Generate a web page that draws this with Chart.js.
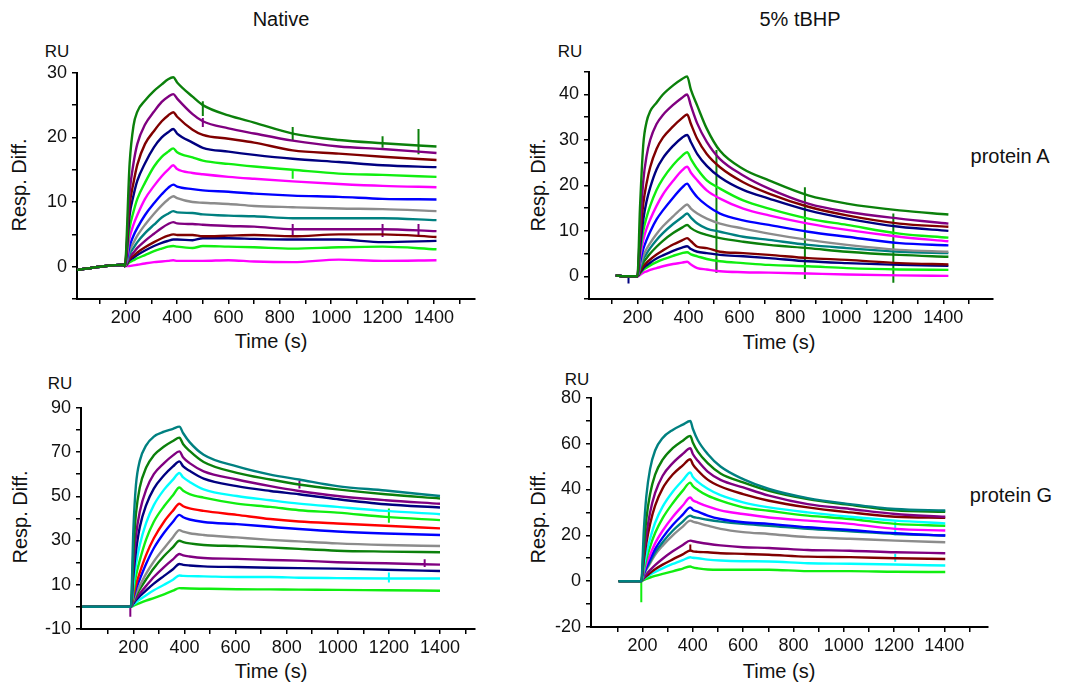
<!DOCTYPE html>
<html>
<head>
<meta charset="utf-8">
<script src="https://cdn.jsdelivr.net/npm/chart.js@4.4.1/dist/chart.umd.min.js"></script>
<style>
  body { margin: 0; background: #fff; width: 1073px; height: 682px; position: relative; overflow: hidden;
         font-family: "Liberation Sans", Arial, sans-serif; color: #111; }
  .lbl { position: absolute; white-space: nowrap; transform: translate(-50%, -50%); font-size: 20px; }
  .ru { font-size: 17px; }
  .rot { transform: translate(-50%, -50%) rotate(-90deg); }
  .panel { position: absolute; }
</style>
</head>
<body>
<div class="lbl" style="left:281px;top:19px">Native</div>
<div class="lbl" style="left:800px;top:19px">5% tBHP</div>
<div class="lbl" style="left:1010px;top:156px">protein A</div>
<div class="lbl" style="left:1011px;top:495px">protein G</div>

<div class="lbl ru" style="left:57px;top:52px">RU</div>
<div class="lbl ru" style="left:570px;top:52px">RU</div>
<div class="lbl ru" style="left:60px;top:384px">RU</div>
<div class="lbl ru" style="left:577px;top:380px">RU</div>

<div class="lbl rot" style="left:19px;top:185px">Resp. Diff.</div>
<div class="lbl rot" style="left:538px;top:185px">Resp. Diff.</div>
<div class="lbl rot" style="left:20px;top:517px">Resp. Diff.</div>
<div class="lbl rot" style="left:538px;top:517px">Resp. Diff.</div>

<div class="lbl" style="left:271px;top:341px">Time (s)</div>
<div class="lbl" style="left:779px;top:342px">Time (s)</div>
<div class="lbl" style="left:271px;top:671px">Time (s)</div>
<div class="lbl" style="left:779px;top:671px">Time (s)</div>

<div class="panel" id="nativeA"></div>
<div class="panel" id="tbhpA"></div>
<div class="panel" id="nativeG"></div>
<div class="panel" id="tbhpG"></div>

<script>
// --- Data (sensorgrams) ---
const nativeATimes = [10, 100, 190, 196, 215, 230, 245, 275, 310, 340, 365, 385, 400, 460, 500, 600, 700, 850, 1030, 1200, 1410];
const nativeA = [
  [-0.5, 0, 0.3, 0.1, 16, 21.8, 24, 25.7, 27.2, 28.2, 29, 29.3, 28.5, 26.3, 25.0, 23.4, 22.3, 20.6, 19.6, 19.1, 18.6],
  [-0.5, 0, 0.3, 0.1, 11.5, 16, 19, 22, 24, 25.5, 26.3, 26.7, 26, 23.6, 22.5, 21.4, 20.6, 19.5, 18.6, 18.2, 17.6],
  [-0.5, 0, 0.3, 0.1, 9.5, 13, 15.8, 19, 21, 22.5, 23.4, 23.9, 23.2, 21.2, 20.4, 19.8, 19.2, 18.0, 17.5, 17.0, 16.5],
  [-0.5, 0, 0.3, 0.1, 8, 11, 13.3, 16, 18.5, 20, 20.8, 21.3, 20.6, 19.2, 18.4, 17.8, 17.3, 16.7, 16.2, 15.7, 15.4],
  [-0.5, 0, 0.3, 0.1, 6, 8.5, 10.5, 13, 15.5, 17, 17.8, 18.3, 17.7, 16.9, 16.4, 15.9, 15.5, 15.0, 14.4, 14.2, 13.9],
  [-0.5, 0, 0.3, 0.1, 4.5, 6.5, 8, 10.5, 12.5, 14, 15, 15.7, 15.1, 14.5, 14.3, 13.9, 13.6, 13.2, 12.8, 12.5, 12.3],
  [-0.5, 0, 0.3, 0.1, 3.2, 4.8, 6, 8, 9.8, 11.2, 12.2, 12.7, 12.4, 12.0, 11.8, 11.6, 11.3, 11.0, 10.8, 10.5, 10.4],
  [-0.5, 0, 0.3, 0.1, 2.5, 3.7, 4.8, 6.5, 8.2, 9.5, 10.4, 10.9, 10.6, 10.0, 9.9, 9.7, 9.4, 9.2, 9.0, 8.9, 8.6],
  [-0.5, 0, 0.3, 0.1, 2, 2.9, 3.8, 5.2, 6.5, 7.6, 8.2, 8.6, 8.4, 8.3, 8.1, 7.9, 7.8, 7.5, 7.5, 7.5, 7.2],
  [-0.5, 0, 0.3, 0.1, 1.5, 2.2, 2.9, 4, 5.1, 6, 6.6, 6.9, 6.7, 6.6, 6.5, 6.3, 6.2, 5.8, 5.8, 5.8, 5.5],
  [-0.5, 0, 0.3, 0.1, 1.2, 1.7, 2.2, 3, 3.8, 4.4, 4.8, 5.0, 4.9, 4.9, 4.7, 4.8, 4.9, 4.7, 5.0, 5.0, 4.6],
  [-0.5, 0, 0.3, 0.1, 1, 1.4, 1.8, 2.5, 3.2, 3.7, 4, 4.2, 4.2, 4.1, 4.4, 4.4, 4.3, 4.2, 4.2, 3.8, 4.0],
  [-0.5, 0, 0.3, 0.1, 0.7, 1, 1.3, 1.8, 2.4, 2.8, 3.1, 3.2, 3.1, 2.9, 3.2, 3.1, 3.0, 2.8, 3.0, 3.1, 2.7],
  [-0.5, 0, 0.3, 0.1, 0.1, 0.2, 0.3, 0.5, 0.7, 0.8, 0.9, 1.0, 0.9, 0.9, 0.9, 1.0, 0.8, 0.7, 1.1, 0.9, 1.0]
];
// injection artefacts: [time, low, high, series index]
const nativeASpikes = [
  [500, 23.3, 25.6, 0], [850, 19.6, 21.6, 0], [1200, 18.4, 20.2, 0], [1340, 17.4, 21.3, 0],
  [850, 4.6, 6.6, 9], [1200, 4.6, 6.6, 9], [1340, 4.8, 6.6, 9], [850, 13.6, 15.0, 4], [500, 21.6, 23.0, 1]
];

const tbhpATimes = [115, 150, 190, 200, 210, 223, 236, 250, 275, 300, 340, 375, 395, 410, 435, 472, 524, 615, 716, 870, 1022, 1228, 1420];
const tbhpA = [
  [0.2, 0, 0, 0, 15, 29, 34, 36.3, 38.2, 40.0, 42.0, 43.4, 44, 41, 37.5, 32.5, 27.6, 23.6, 21.1, 17.8, 16.0, 14.5, 13.6],
  [0.2, 0, 0, 0, 10, 21, 26.5, 30, 33.5, 35.5, 37.7, 39.3, 40, 37.5, 33.6, 29.6, 25.8, 22.2, 19.3, 16.0, 14.2, 12.7, 11.6],
  [0.2, 0, 0, 0, 8, 16, 20.5, 24, 28, 30.5, 33, 34.8, 35.6, 33.5, 30.2, 26.9, 24.0, 20.7, 18.2, 15.3, 13.4, 11.6, 10.9],
  [0.2, 0, 0, 0, 6, 12.5, 16.5, 19.5, 23.5, 26, 28.7, 30.5, 31.1, 29.5, 26.9, 24.3, 21.8, 19.0, 17.1, 14.5, 12.7, 10.9, 10.0],
  [0.2, 0, 0, 0, 5, 10, 13, 15.5, 19, 21.5, 24.5, 26.5, 27.3, 25.8, 23.6, 21.1, 19.3, 16.7, 14.9, 12.7, 11.3, 9.4, 8.5],
  [0.2, 0, 0, 0, 4, 8, 10.5, 12.5, 15.5, 18, 21, 23.3, 24.1, 22.8, 21.1, 18.9, 17.1, 14.9, 13.4, 11.6, 10.2, 8.7, 7.7],
  [0.2, 0, 0, 0, 3, 6, 8, 9.8, 12.5, 14.5, 17.3, 19.5, 20.4, 19.2, 17.4, 15.6, 13.8, 12.3, 11.3, 9.8, 8.7, 7.3, 6.8],
  [0.2, 0, 0, 0, 2.2, 4.5, 6, 7.3, 9.3, 11, 13.2, 15, 15.8, 14.9, 13.8, 12.7, 11.6, 10.5, 9.4, 8.0, 6.9, 5.8, 5.4],
  [0.2, 0, 0, 0, 1.8, 3.8, 5, 6.2, 8, 9.5, 11.5, 13, 13.8, 12.9, 11.6, 10.5, 9.8, 8.7, 8.0, 6.9, 6.2, 5.4, 5.1],
  [0.2, 0, 0, 0, 1.4, 3, 4, 5, 6.5, 7.8, 9.5, 10.7, 11.3, 10.6, 9.8, 9.1, 8.4, 7.6, 6.9, 6.2, 5.4, 4.7, 4.3],
  [0.2, 0, 0, 0, 1.0, 2.2, 3, 3.7, 4.8, 5.7, 7, 7.9, 8.4, 7.7, 6.5, 6.2, 5.4, 5.1, 4.7, 4.0, 3.6, 2.9, 2.6],
  [0.2, 0, 0, 0, 0.8, 1.8, 2.4, 3, 3.9, 4.6, 5.6, 6.3, 6.6, 6.0, 5.4, 5.1, 4.7, 4.4, 4.0, 3.3, 2.9, 2.5, 2.3],
  [0.2, 0, 0, 0, 0.6, 1.4, 1.9, 2.4, 3.1, 3.7, 4.5, 5.1, 5.3, 4.8, 4.4, 3.8, 3.3, 2.9, 2.5, 2.2, 1.8, 1.5, 1.4],
  [0.2, 0, 0, 0, 0.3, 0.8, 1.1, 1.4, 1.8, 2.2, 2.7, 3.0, 3.2, 2.6, 1.8, 1.5, 1.1, 0.9, 0.8, 0.6, 0.4, 0.2, 0.1]
];
const tbhpASpikes = [
  [510, 0.8, 27.8, 0], [857, -0.6, 19.6, 0], [1204, -1.4, 13.8, 0], [165, -1.6, 0, 3], [510, 0.8, 4, 13]
];

const nativeGTimes = [0, 100, 150, 185, 190, 200, 210, 225, 250, 280, 320, 355, 380, 395, 420, 475, 605, 736, 848, 998, 1187, 1400];
const nativeG = [
  [0, 0, 0, 0, 0, 35, 55, 66, 73, 77, 79.2, 80.5, 81.5, 78.5, 74.5, 68.8, 63.5, 59.8, 57.6, 54.6, 52.6, 50.1],
  [0, 0, 0, 0, 0, 25, 42, 54, 63, 68.5, 72.5, 75, 76.5, 73.5, 70.5, 65.5, 60.6, 57.6, 55.3, 53.1, 50.9, 49.0],
  [0, 0, 0, 0, 0, 18, 32, 43, 53, 60, 65, 68.5, 70.3, 67.5, 65, 61.3, 57.6, 54.6, 52.4, 50.1, 48.2, 46.6],
  [0, 0, 0, 0, 0, 14, 25, 36, 46, 53.5, 59.5, 63.5, 65.8, 63.5, 61.5, 58, 54.6, 52.4, 50.9, 48.7, 46.4, 44.9],
  [0, 0, 0, 0, 0, 10, 19, 28, 38, 46, 53, 57.5, 60.5, 58.5, 56.5, 53.1, 50.1, 48.2, 46.7, 45.2, 43.4, 41.9],
  [0, 0, 0, 0, 0, 7, 14, 21, 30.5, 38.5, 45.5, 50.5, 54, 52.5, 51, 49.4, 46.7, 45.2, 43.7, 42.6, 40.7, 39.2],
  [0, 0, 0, 0, 0, 5, 10, 15.5, 23.5, 31, 38.5, 43.5, 46.6, 45.5, 44.5, 43.4, 41.6, 39.7, 38.6, 37.7, 36.7, 35.5],
  [0, 0, 0, 0, 0, 4, 8, 12.5, 19.5, 26.5, 33.5, 38.5, 41.6, 40.5, 39.5, 38.4, 37.4, 36.2, 35.2, 34.1, 33.2, 32.5],
  [0, 0, 0, 0, 0, 3, 6, 9.5, 15, 20.5, 26.5, 31.5, 34.7, 34, 33.3, 32.5, 31.4, 30.3, 29.6, 28.7, 28.0, 27.5],
  [0, 0, 0, 0, 0, 2.5, 5, 8, 12.5, 17.5, 23, 27, 29.9, 29.3, 28.7, 28.0, 27.5, 26.9, 26.2, 25.4, 25.0, 24.7],
  [0, 0, 0, 0, 0, 2, 3.8, 6, 9.5, 13.5, 18, 21.5, 23.9, 23.3, 22.8, 22.1, 21.7, 21.2, 20.9, 20.2, 19.7, 19.1],
  [0, 0, 0, 0, 0, 1.5, 3, 4.8, 7.5, 10.5, 14, 17, 19.4, 19.0, 18.7, 18.3, 18.0, 17.7, 17.5, 17.3, 16.8, 16.2],
  [0, 0, 0, 0, 0, 1, 2, 3.3, 5.3, 7.5, 10, 12.3, 14.2, 14.0, 13.9, 13.8, 13.5, 13.5, 13.2, 13.0, 12.8, 12.8],
  [0, 0, 0, 0, 0, 0.5, 1, 1.7, 2.8, 4, 5.7, 7.3, 8.5, 8.4, 8.3, 8.2, 8.0, 7.9, 7.8, 7.7, 7.5, 7.3]
];
const nativeGSpikes = [
  [1200, 38.0, 44.5, 5], [188, -4.5, 0, 2], [850, 53.5, 57.0, 2], [1340, 18.0, 21.5, 10], [1200, 11.0, 15.5, 12]
];

const tbhpGTimes = [105, 150, 190, 195, 205, 215, 230, 250, 280, 320, 360, 390, 400, 420, 459, 510, 600, 703, 857, 1025, 1205, 1404];
const tbhpG = [
  [0, 0, 0, 0, 22, 37, 49, 57, 62.5, 66, 68.3, 69.9, 66.5, 61.5, 55.5, 50.0, 44.5, 40.2, 36.2, 33.6, 31.5, 30.8],
  [0, 0, 0, 0, 15, 27, 38, 46.5, 53, 58, 61.3, 63.4, 60.5, 56.5, 51.5, 47.0, 43.1, 39.4, 35.8, 33.3, 30.9, 30.3],
  [0, 0, 0, 0, 11, 20, 30, 38.5, 46, 51.5, 55.5, 58, 55.5, 52.5, 47.8, 44.2, 40.9, 37.3, 33.6, 31.5, 29.3, 28.1],
  [0, 0, 0, 0, 9, 16.5, 25, 33, 40.5, 46.5, 50.5, 53.2, 51, 48.3, 44.3, 41.3, 38.0, 35.1, 32.2, 30.0, 28.1, 27.6],
  [0, 0, 0, 0, 6.5, 12, 18.5, 25.5, 32.5, 39, 44, 47.4, 45.5, 43.3, 40.3, 37.5, 34.4, 32.2, 30.0, 28.1, 26.4, 25.2],
  [0, 0, 0, 0, 5, 9.5, 15, 21, 27.5, 34, 39.5, 43, 41.5, 39.8, 37.3, 35.1, 32.2, 30.7, 28.6, 27.1, 25.0, 24.2],
  [0, 0, 0, 0, 4, 7.5, 11.5, 16.5, 22, 28, 33, 36.5, 35.3, 34.3, 32.6, 30.9, 29.3, 27.8, 26.4, 25.0, 22.8, 22.1],
  [0, 0, 0, 0, 3.3, 6, 9.5, 14, 19, 24.5, 29, 32.2, 31.2, 30.3, 28.6, 27.1, 25.7, 25.0, 23.5, 22.3, 20.9, 19.9],
  [0, 0, 0, 0, 3, 5.5, 8.5, 12.5, 17, 22, 26, 28.6, 28, 27.6, 26.8, 26.0, 25.0, 24.2, 22.8, 21.8, 20.6, 19.9],
  [0, 0, 0, 0, 2.7, 5, 7.8, 11.5, 15.5, 20, 23.8, 26.4, 26, 25.4, 24.2, 22.8, 21.4, 20.6, 19.2, 18.5, 17.7, 17.0],
  [0, 0, 0, 0, 1.6, 3, 4.8, 7, 9.8, 13, 15.8, 17.7, 17.4, 17.0, 16.3, 15.6, 14.8, 14.5, 13.6, 13.3, 12.6, 12.2],
  [0, 0, 0, 0, 1.2, 2.2, 3.5, 5.2, 7.2, 9.5, 11.7, 13.4, 13.0, 12.8, 12.6, 12.2, 11.9, 11.5, 10.7, 10.5, 10.0, 9.7],
  [0, 0, 0, 0, 1, 1.8, 2.8, 4, 5.6, 7.5, 9.2, 10.4, 10.2, 10.0, 9.4, 9.0, 8.7, 8.6, 7.8, 7.6, 7.3, 6.8],
  [0, 0, 0, 0, 0.5, 1, 1.6, 2.3, 3.2, 4.3, 5.5, 6.4, 6.0, 5.6, 5.1, 5.0, 5.0, 5.0, 4.4, 4.4, 4.1, 4.0]
];
const tbhpGSpikes = [
  [195, -9.2, 0, 13], [1205, 20.0, 26.0, 4], [1205, 8.5, 12.0, 12], [390, 13.0, 16.0, 11]
];

const xTickValues = [100, 200, 300, 400, 500, 600, 700, 800, 900, 1000, 1100, 1200, 1300, 1400, 1500];
const xTickLabels = [200, 400, 600, 800, 1000, 1200, 1400];

// --- Colours ---
const GREEN = "#0b800b", PURPLE = "#800080", MAROON = "#800000", NAVY = "#000080", LIME = "#10ee10",
      MAGENTA = "#ff00ff", BLUE = "#0000ff", GRAY = "#8c8c8c", TEAL = "#008080", RED = "#ff0000", CYAN = "#00ffff";
const colorsNativeA = [GREEN, PURPLE, MAROON, NAVY, LIME, MAGENTA, BLUE, GRAY, TEAL, PURPLE, MAROON, NAVY, LIME, MAGENTA];
const colorsTbhpA = [GREEN, PURPLE, MAROON, NAVY, LIME, MAGENTA, BLUE, GRAY, TEAL, GREEN, MAROON, NAVY, LIME, MAGENTA];
const colorsNativeG = [TEAL, GREEN, PURPLE, NAVY, CYAN, LIME, RED, BLUE, GRAY, GREEN, PURPLE, NAVY, CYAN, LIME];
const colorsTbhpG = [TEAL, GREEN, PURPLE, MAROON, CYAN, LIME, MAGENTA, BLUE, TEAL, GRAY, PURPLE, MAROON, CYAN, LIME];

Chart.defaults.font.family = '"Liberation Sans", Arial, sans-serif';
Chart.defaults.color = "#111";

// Build one sensorgram panel; area = where the plot box should sit on the page
function drawPanel(id, area, times, series, spikes, colors, xr, yr, yStep, yLabelFrom, yLabelEvery) {
    const YW = 60, XH = 34, PT = 14, PR = 4, PB = 2;
    const box = document.getElementById(id);
    box.style.left = (area.l - YW) + "px";
    box.style.top = (area.t - PT) + "px";
    const cv = document.createElement("canvas");
    cv.width = area.r - area.l + YW + PR;
    cv.height = area.b - area.t + PT + XH + PB;
    box.appendChild(cv);

    const datasets = series.map((vals, i) => ({
        data: vals.map((v, k) => ({ x: times[k], y: v })),
        borderColor: colors[i],
        borderWidth: 2.4,
        pointRadius: 0,
        fill: false,
        cubicInterpolationMode: "monotone"
    }));
    spikes.forEach(([t, lo, hi, ci]) => {
        datasets.push({
            data: [{ x: t, y: lo }, { x: t, y: hi }],
            borderColor: colors[ci], borderWidth: 2, pointRadius: 0, tension: 0, fill: false
        });
    });

    const yTicks = [];
    for (let v = yr[0]; v <= yr[1]; v += yStep) yTicks.push(v);

    new Chart(cv, {
        type: "line",
        data: { datasets },
        options: {
            responsive: false,
            animation: false,
            devicePixelRatio: 1,
            layout: { padding: { top: PT, right: PR, bottom: PB, left: 0 } },
            plugins: { legend: { display: false }, tooltip: { enabled: false } },
            scales: {
                x: {
                    type: "linear", min: xr[0], max: xr[1],
                    afterFit: s => { s.height = XH; },
                    afterBuildTicks: s => { s.ticks = xTickValues.filter(v => v > xr[0] && v < xr[1]).map(v => ({ value: v })); },
                    ticks: {
                        autoSkip: false, maxRotation: 0, padding: 3, color: "#111",
                        font: { size: 18 },
                        callback: v => xTickLabels.includes(v) ? String(v) : ""
                    },
                    grid: { drawOnChartArea: false, drawTicks: true, tickLength: 5, color: "#000", lineWidth: 1.5 },
                    border: { display: true, color: "#000", width: 2 }
                },
                y: {
                    type: "linear", min: yr[0], max: yr[1],
                    afterFit: s => { s.width = YW; },
                    afterBuildTicks: s => { s.ticks = yTicks.map(v => ({ value: v })); },
                    ticks: {
                        autoSkip: false, padding: 5, color: "#111",
                        font: { size: 18 },
                        callback: v => ((v - yLabelFrom) % yLabelEvery === 0 ? String(v) : "")
                    },
                    grid: { drawOnChartArea: false, drawTicks: true, tickLength: 5, color: "#000", lineWidth: 1.5 },
                    border: { display: true, color: "#000", width: 2 }
                }
            }
        }
    });
}

drawPanel("nativeA", { l: 77, r: 475, t: 71, b: 299 }, nativeATimes, nativeA, nativeASpikes, colorsNativeA, [10, 1560], [-5, 30], 5, 0, 10);
drawPanel("tbhpA", { l: 589, r: 993, t: 70, b: 299 }, tbhpATimes, tbhpA, tbhpASpikes, colorsTbhpA, [10, 1595], [-5, 45], 5, 0, 10);
drawPanel("nativeG", { l: 81, r: 475, t: 406, b: 629 }, nativeGTimes, nativeG, nativeGSpikes, colorsNativeG, [-5, 1537], [-10, 90], 10, -10, 20);
drawPanel("tbhpG", { l: 591, r: 988, t: 396, b: 627 }, tbhpGTimes, tbhpG, tbhpGSpikes, colorsTbhpG, [-5, 1574], [-20, 80], 10, -20, 20);
</script>
</body>
</html>
